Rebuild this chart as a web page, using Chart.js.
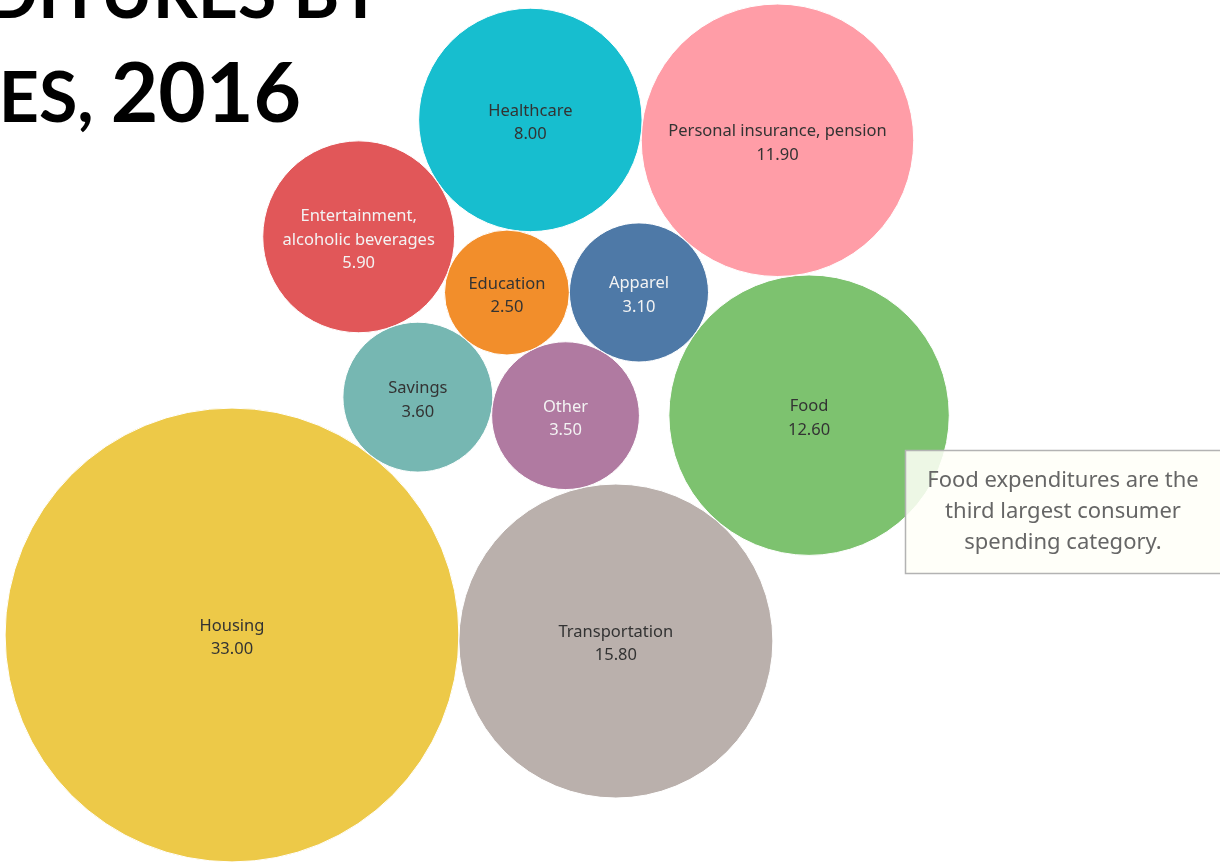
<!DOCTYPE html>
<html>
<head>
    <meta charset="UTF-8">
    <title>Consumer Expenditures by Categories, 2016</title>
    <script src="https://cdn.jsdelivr.net/npm/chart.js"></script>
    <style>
        html, body { margin: 0; padding: 0; background: #fff; overflow: hidden; }
        canvas { display: block; }
    </style>
</head>
<body>
    <canvas id="spendChart" width="1220" height="866"></canvas>
    <script>
        // share of consumer spending, percent
        var categories = ['Housing', 'Transportation', 'Food', 'Personal insurance, pension',
            'Healthcare', 'Entertainment, alcoholic beverages', 'Savings', 'Other', 'Education', 'Apparel'];
        var shares = [33.0, 15.8, 12.6, 11.9, 8.0, 5.9, 3.6, 3.5, 2.5, 3.1];
        var colors = ['#EDC948', '#BAB0AC', '#7DC26F', '#FF9DA7', '#17BECF',
            '#E15759', '#76B7B2', '#B07AA1', '#F28E2B', '#4E79A7'];
        var lightText = ['Entertainment, alcoholic beverages', 'Other', 'Apparel'];
        var labelLines = { 'Entertainment, alcoholic beverages': ['Entertainment,', 'alcoholic beverages'] };

        var noteLines = ['Food expenditures are the', 'third largest consumer', 'spending category.'];

        // bubble area proportional to the value
        var K = 39.5;
        function radius(v) { return K * Math.sqrt(v); }

        // packing: first bubble anchored, two placed by angle off Housing,
        // the rest sit tangent to two bubbles already placed
        var packing = [
            { name: 'Housing', at: [232, 635] },
            { name: 'Transportation', touch: 'Housing', angle: 0.9 },
            { name: 'Savings', touch: 'Housing', angle: -52 },
            { name: 'Other', between: ['Savings', 'Transportation'] },
            { name: 'Education', between: ['Savings', 'Other'] },
            { name: 'Entertainment, alcoholic beverages', between: ['Savings', 'Education'] },
            { name: 'Healthcare', between: ['Entertainment, alcoholic beverages', 'Education'] },
            { name: 'Apparel', between: ['Education', 'Other'] },
            { name: 'Personal insurance, pension', between: ['Healthcare', 'Apparel'] },
            { name: 'Food', between: ['Apparel', 'Transportation'] }
        ];

        function packBubbles() {
            var pos = {};
            packing.forEach(function (p) {
                var r = radius(shares[categories.indexOf(p.name)]);
                if (p.at) {
                    pos[p.name] = { x: p.at[0], y: p.at[1], r: r };
                } else if (p.touch) {
                    var c = pos[p.touch], d = c.r + r, a = p.angle * Math.PI / 180;
                    pos[p.name] = { x: c.x + d * Math.cos(a), y: c.y + d * Math.sin(a), r: r };
                } else {
                    var A = pos[p.between[0]], B = pos[p.between[1]];
                    var da = A.r + r, db = B.r + r;
                    var dx = B.x - A.x, dy = B.y - A.y, d = Math.hypot(dx, dy);
                    var ux = dx / d, uy = dy / d;
                    var a = (da * da - db * db + d * d) / (2 * d);
                    var h = Math.sqrt(Math.max(0, da * da - a * a));
                    pos[p.name] = { x: A.x + a * ux + h * uy, y: A.y + a * uy - h * ux, r: r };
                }
            });
            return categories.map(function (name) { return pos[name]; });
        }

        var points = packBubbles();

        var bubbleLabels = {
            id: 'bubbleLabels',
            afterDatasetsDraw: function (chart) {
                var ctx = chart.ctx;
                var meta = chart.getDatasetMeta(0);
                ctx.save();
                ctx.textAlign = 'center';
                ctx.textBaseline = 'middle';
                ctx.font = '16.5px "Noto Sans"';
                meta.data.forEach(function (el, i) {
                    var name = categories[i];
                    var lines = (labelLines[name] || [name]).concat([shares[i].toFixed(2)]);
                    ctx.fillStyle = lightText.indexOf(name) >= 0 ? '#f3f3f3' : '#333333';
                    var step = 23.5;
                    var y0 = el.y + 3 - step * (lines.length - 1) / 2;
                    lines.forEach(function (t, j) {
                        ctx.fillText(t, el.x, y0 + j * step);
                    });
                });
                ctx.restore();
            }
        };

        // title pieces: [text, size]; small caps drawn at the smaller size
        var titleTop = [['C', 82], ['ONSUMER ', 70], ['E', 82], ['XPENDITURES ', 70], ['BY', 70]];
        var titleBottom = [['C', 82], ['ATEGORIES, ', 70], ['2016', 82]];

        function drawPieces(ctx, pieces, rightX, baseline) {
            var total = 0;
            pieces.forEach(function (p) {
                ctx.font = 'bold ' + p[1] + 'px Lato';
                total += ctx.measureText(p[0]).width;
            });
            var x = rightX - total;
            pieces.forEach(function (p) {
                ctx.font = 'bold ' + p[1] + 'px Lato';
                ctx.fillText(p[0], x, baseline);
                x += ctx.measureText(p[0]).width;
            });
        }

        var overlay = {
            id: 'overlay',
            afterDraw: function (chart) {
                var ctx = chart.ctx;
                ctx.save();
                ctx.fillStyle = '#000';
                ctx.textAlign = 'left';
                ctx.textBaseline = 'alphabetic';
                drawPieces(ctx, titleTop, 383, 18);
                drawPieces(ctx, titleBottom, 301, 122);

                // annotation box
                ctx.fillStyle = 'rgba(255, 255, 248, 0.86)';
                ctx.fillRect(905, 450, 330, 124);
                ctx.strokeStyle = '#b3b3b3';
                ctx.lineWidth = 1.5;
                ctx.strokeRect(905.5, 450.5, 330, 123);
                ctx.fillStyle = '#666666';
                ctx.font = '22px "Noto Sans"';
                ctx.textAlign = 'center';
                ctx.textBaseline = 'middle';
                noteLines.forEach(function (t, j) {
                    ctx.fillText(t, 1063, 481 + j * 31);
                });
                ctx.restore();
            }
        };

        var ctx = document.getElementById('spendChart').getContext('2d');
        var spendChart = new Chart(ctx, {
            type: 'bubble',
            data: {
                labels: categories,
                datasets: [{
                    label: 'Share of spending',
                    data: points,
                    backgroundColor: colors,
                    hoverBackgroundColor: colors,
                    borderColor: '#ffffff',
                    borderWidth: 1,
                    hoverBorderWidth: 1,
                    clip: false
                }]
            },
            options: {
                responsive: false,
                animation: false,
                events: [],
                layout: { padding: 0, autoPadding: false },
                plugins: {
                    legend: { display: false },
                    tooltip: { enabled: false }
                },
                scales: {
                    x: { type: 'linear', display: false, min: 0, max: 1220 },
                    y: { type: 'linear', display: false, min: 0, max: 866, reverse: true }
                }
            },
            plugins: [bubbleLabels, overlay]
        });
    </script>
</body>
</html>
